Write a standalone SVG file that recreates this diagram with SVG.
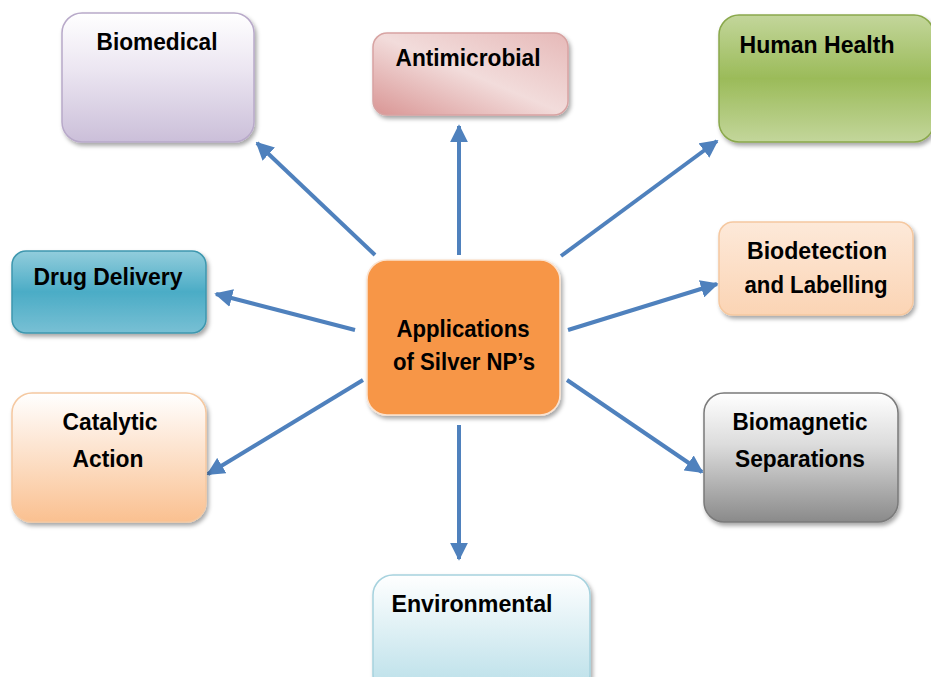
<svg xmlns="http://www.w3.org/2000/svg" width="931" height="677" viewBox="0 0 931 677">
<defs>
<filter id="sh" x="-10%" y="-10%" width="130%" height="130%"><feDropShadow dx="2" dy="3" stdDeviation="2" flood-color="#000" flood-opacity="0.35"/></filter>
<linearGradient id="gBio" x1="0" y1="0" x2="0" y2="1"><stop offset="0" stop-color="#ffffff"/><stop offset="0.45" stop-color="#ebe5f1"/><stop offset="1" stop-color="#cbbfd9"/></linearGradient>
<linearGradient id="gAnti" x1="0" y1="1" x2="1" y2="0"><stop offset="0" stop-color="#d99594"/><stop offset="0.5" stop-color="#f2dcdb"/><stop offset="1" stop-color="#e6b9b8"/></linearGradient>
<linearGradient id="gHum" x1="0" y1="0" x2="0" y2="1"><stop offset="0" stop-color="#c3d69b"/><stop offset="0.5" stop-color="#9bbb59"/><stop offset="1" stop-color="#c3d69b"/></linearGradient>
<linearGradient id="gDrug" x1="0" y1="0" x2="0" y2="1"><stop offset="0" stop-color="#92cddc"/><stop offset="0.5" stop-color="#4bacc6"/><stop offset="1" stop-color="#78c0d4"/></linearGradient>
<linearGradient id="gDet" x1="0" y1="0" x2="0" y2="1"><stop offset="0" stop-color="#fde9d9"/><stop offset="1" stop-color="#fbd4b4"/></linearGradient>
<linearGradient id="gCat" x1="0" y1="0" x2="0" y2="1"><stop offset="0" stop-color="#ffffff"/><stop offset="1" stop-color="#fac090"/></linearGradient>
<linearGradient id="gMag" x1="0" y1="0" x2="0" y2="1"><stop offset="0" stop-color="#ffffff"/><stop offset="0.4" stop-color="#dcdcdc"/><stop offset="1" stop-color="#8a8a8a"/></linearGradient>
<linearGradient id="gEnv" x1="0" y1="0" x2="0" y2="1"><stop offset="0" stop-color="#ffffff"/><stop offset="1" stop-color="#b7dee8"/></linearGradient>
<marker id="ah" viewBox="0 0 10 10" refX="9" refY="5" markerWidth="4.5" markerHeight="4.5" orient="auto" markerUnits="strokeWidth"><path d="M0,0 L10,5 L0,10 z" fill="#4f81bd"/></marker>
</defs>
<style>
.box{filter:url(#sh);stroke-width:1.5}
.t{font-family:"Liberation Sans",Arial,sans-serif;font-weight:bold;font-size:23px;fill:#000;text-anchor:middle}
.c{stroke:#4f81bd;stroke-width:4;fill:none;marker-end:url(#ah)}
</style>
<rect width="931" height="677" fill="#ffffff"/>
<g id="connectors">
<line class="c" x1="375" y1="255" x2="257" y2="143"/>
<line class="c" x1="459" y1="255" x2="459" y2="126"/>
<line class="c" x1="561" y1="256" x2="717" y2="141"/>
<line class="c" x1="355" y1="330" x2="216" y2="294"/>
<line class="c" x1="568" y1="330" x2="717" y2="284"/>
<line class="c" x1="363" y1="380" x2="208" y2="474"/>
<line class="c" x1="567" y1="380" x2="702" y2="472"/>
<line class="c" x1="459" y1="425" x2="459" y2="559"/>
</g>
<g id="center">
<rect class="box" x="367" y="260" width="193" height="155" rx="20" fill="#f79646" stroke="#fbe3d0" stroke-width="3"/>
<text class="t" x="463" y="337" textLength="133" lengthAdjust="spacingAndGlyphs">Applications</text>
<text class="t" x="464" y="370" textLength="142" lengthAdjust="spacingAndGlyphs">of Silver NP’s</text>
</g>
<g id="biomedical">
<rect class="box" x="62" y="13" width="192" height="129" rx="20" fill="url(#gBio)" stroke="#b8a9c9"/>
<text class="t" x="157" y="50" textLength="121" lengthAdjust="spacingAndGlyphs">Biomedical</text>
</g>
<g id="antimicrobial">
<rect class="box" x="373" y="33" width="195" height="82" rx="14" fill="url(#gAnti)" stroke="#d7a3a2"/>
<text class="t" x="468" y="66" textLength="145" lengthAdjust="spacingAndGlyphs">Antimicrobial</text>
</g>
<g id="human-health">
<rect class="box" x="719" y="15" width="215" height="127" rx="20" fill="url(#gHum)" stroke="#8aa84c"/>
<text class="t" x="817" y="53" textLength="155" lengthAdjust="spacingAndGlyphs">Human Health</text>
</g>
<g id="drug-delivery">
<rect class="box" x="12" y="251" width="194" height="82" rx="14" fill="url(#gDrug)" stroke="#3e97ae"/>
<text class="t" x="108" y="285" textLength="149" lengthAdjust="spacingAndGlyphs">Drug Delivery</text>
</g>
<g id="biodetection">
<rect class="box" x="719" y="222" width="194" height="93" rx="14" fill="url(#gDet)" stroke="#f5c8a0"/>
<text class="t" x="817" y="259" textLength="140" lengthAdjust="spacingAndGlyphs">Biodetection</text>
<text class="t" x="816" y="293" textLength="143" lengthAdjust="spacingAndGlyphs">and Labelling</text>
</g>
<g id="catalytic">
<rect class="box" x="12" y="393" width="194" height="129" rx="20" fill="url(#gCat)" stroke="#f5c8a0"/>
<text class="t" x="110" y="430" textLength="95" lengthAdjust="spacingAndGlyphs">Catalytic</text>
<text class="t" x="108" y="467" textLength="71" lengthAdjust="spacingAndGlyphs">Action</text>
</g>
<g id="biomagnetic">
<rect class="box" x="704" y="393" width="194" height="129" rx="20" fill="url(#gMag)" stroke="#7a7a7a"/>
<text class="t" x="800" y="430" textLength="135" lengthAdjust="spacingAndGlyphs">Biomagnetic</text>
<text class="t" x="800" y="467" textLength="130" lengthAdjust="spacingAndGlyphs">Separations</text>
</g>
<g id="environmental">
<rect class="box" x="373" y="575" width="217" height="120" rx="20" fill="url(#gEnv)" stroke="#a6d2de"/>
<text class="t" x="472" y="612" textLength="161" lengthAdjust="spacingAndGlyphs">Environmental</text>
</g>
</svg>
